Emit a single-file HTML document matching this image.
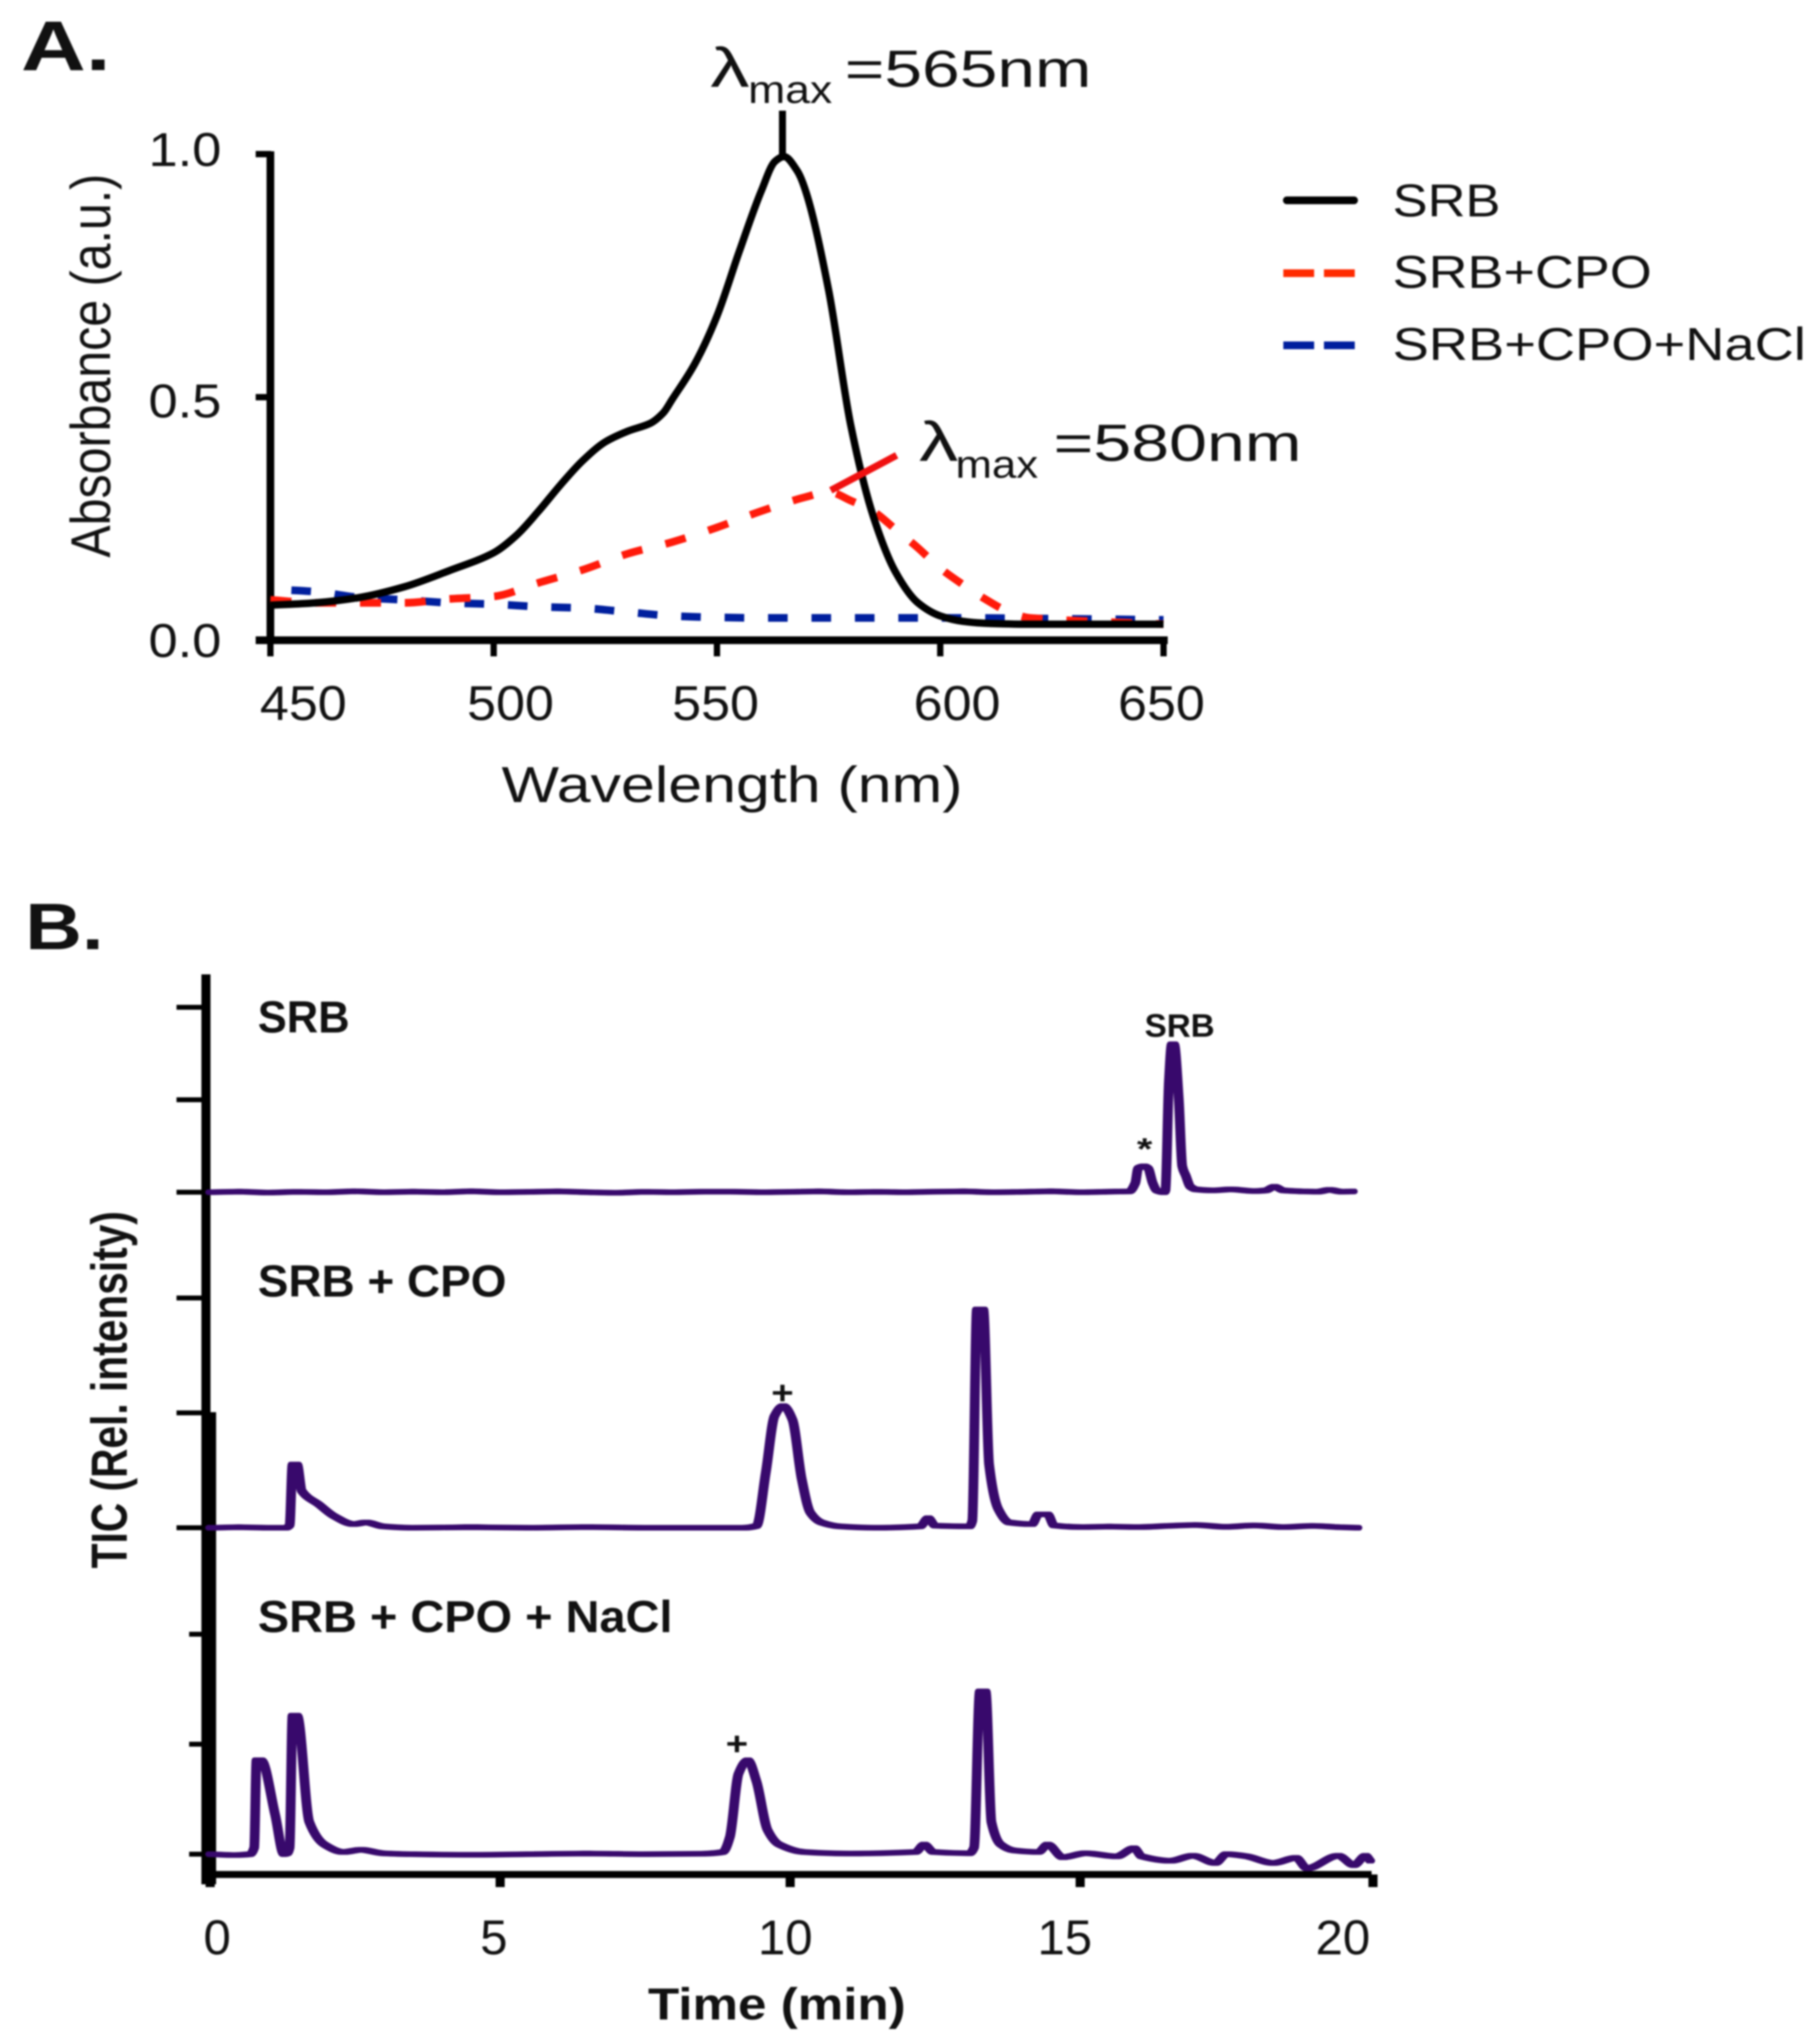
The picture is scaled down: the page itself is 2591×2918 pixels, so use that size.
<!DOCTYPE html>
<html lang="en">
<head>
<meta charset="utf-8">
<title>SRB absorbance spectra and TIC chromatograms</title>
<style>
html,body{margin:0;padding:0;background:#fff;width:2591px;height:2918px;overflow:hidden}
svg{display:block;filter:blur(1.2px)}
text{font-family:"Liberation Sans",sans-serif;fill:#111}
.b{font-weight:700}
</style>
</head>
<body>
<svg id="figure" xmlns="http://www.w3.org/2000/svg" width="2591" height="2918" viewBox="0 0 2591 2918">
  <rect x="0" y="0" width="2591" height="2918" fill="#fff"/>

  <text class="b" x="30" y="100" font-size="100" textLength="128" lengthAdjust="spacingAndGlyphs">A.</text>
  <text class="b" x="36" y="1355" font-size="94" textLength="112" lengthAdjust="spacingAndGlyphs">B.</text>

  <g id="panel-a"></g>

  <text transform="translate(157,522) rotate(-90)" text-anchor="middle" font-size="80" textLength="548" lengthAdjust="spacingAndGlyphs">Absorbance (a.u.)</text>
  <text x="716" y="1145" font-size="72" textLength="658" lengthAdjust="spacingAndGlyphs">Wavelength (nm)</text>

  <line x1="1117" y1="158" x2="1117" y2="226" stroke="#000" stroke-width="10"/>
  <line x1="1186" y1="700" x2="1280" y2="650" stroke="#f01010" stroke-width="10"/>

  <g>
    <text x="1014" y="124" font-size="80" textLength="56" lengthAdjust="spacingAndGlyphs">λ</text>
    <text x="1068" y="147" font-size="56" textLength="120" lengthAdjust="spacingAndGlyphs">max</text>
    <text x="1206" y="124" font-size="74" textLength="352" lengthAdjust="spacingAndGlyphs">=565nm</text>
  </g>
  <g>
    <text x="1312" y="658" font-size="80" textLength="56" lengthAdjust="spacingAndGlyphs">λ</text>
    <text x="1364" y="682" font-size="56" textLength="118" lengthAdjust="spacingAndGlyphs">max</text>
    <text x="1504" y="658" font-size="74" textLength="354" lengthAdjust="spacingAndGlyphs">=580nm</text>
  </g>

  <g>
    <g>
      <line x1="1837" y1="286" x2="1933" y2="286" stroke="#000" stroke-width="11" stroke-linecap="round"/>
      <text x="1988" y="309" font-size="66" textLength="154" lengthAdjust="spacingAndGlyphs">SRB</text>
    </g>
    <g>
      <line x1="1832" y1="390" x2="1934" y2="390" stroke="#ff2a00" stroke-width="11" stroke-dasharray="44 14"/>
      <text x="1988" y="411" font-size="66" textLength="370" lengthAdjust="spacingAndGlyphs">SRB+CPO</text>
    </g>
    <g>
      <line x1="1832" y1="493" x2="1934" y2="493" stroke="#001f9e" stroke-width="11" stroke-dasharray="44 14"/>
      <text x="1988" y="514" font-size="66" textLength="590" lengthAdjust="spacingAndGlyphs">SRB+CPO+NaCl</text>
    </g>
  </g>

  <g id="panel-b"></g>

  <text class="b" transform="translate(181,1984) rotate(-90)" text-anchor="middle" font-size="72" textLength="510" lengthAdjust="spacingAndGlyphs">TIC (Rel. intensity)</text>
  <text class="b" x="925" y="2883" font-size="64" textLength="368" lengthAdjust="spacingAndGlyphs">Time (min)</text>

  <text class="b" x="368" y="1474" font-size="64" textLength="131" lengthAdjust="spacingAndGlyphs">SRB</text>
  <text class="b" x="368" y="1851" font-size="64" textLength="355" lengthAdjust="spacingAndGlyphs">SRB + CPO</text>
  <text class="b" x="368" y="2330" font-size="64" textLength="592" lengthAdjust="spacingAndGlyphs">SRB + CPO + NaCl</text>

  <text class="b" x="1634" y="1480" font-size="46" textLength="100" lengthAdjust="spacingAndGlyphs">SRB</text>
  <text class="b" x="1623" y="1655" font-size="44" textLength="22" lengthAdjust="spacingAndGlyphs">*</text>
  <text class="b" x="1101" y="2004" font-size="46" textLength="32" lengthAdjust="spacingAndGlyphs">+</text>
  <text class="b" x="1036" y="2505" font-size="46" textLength="32" lengthAdjust="spacingAndGlyphs">+</text>
</svg>

<script>
// ---- Panel A data ----
const wavelengthsSRB = [450,460,470,480,490,500,505,510,515,520,525,530,535,538,540,545,550,555,560,563,565,568,570,575,580,585,590,595,600,605,610,620,650];
const absorbanceSRB  = [0.072,0.077,0.088,0.11,0.143,0.18,0.215,0.265,0.32,0.37,0.408,0.43,0.446,0.468,0.496,0.568,0.667,0.80,0.926,0.985,0.995,0.965,0.92,0.72,0.44,0.255,0.14,0.077,0.05,0.039,0.035,0.033,0.033];
const wavelengthsCPO = [450,460,470,480,490,500,510,520,530,540,550,560,570,575,580,585,590,595,600,605,610,615,620,650];
const absorbanceCPO  = [0.083,0.077,0.077,0.077,0.085,0.09,0.118,0.145,0.178,0.202,0.232,0.266,0.295,0.305,0.287,0.265,0.228,0.19,0.148,0.115,0.085,0.06,0.046,0.033];
const wavelengthsNaCl = [450,460,470,480,490,500,510,520,530,540,550,560,600,650];
const absorbanceNaCl  = [0.105,0.1,0.088,0.083,0.077,0.074,0.069,0.066,0.058,0.05,0.047,0.046,0.046,0.042];
const xTicksA = [450,500,550,600,650];
const yTicksA = [0,0.5,1];
const yTickLabelsA = ["0.0","0.5","1.0"];

// ---- Panel B data ----
const timesTrace1 = [0,0.5,1,1.5,2,2.5,3,3.5,4,4.5,5,5.5,6,6.5,7,7.5,8,8.5,9,9.5,10,10.5,11,11.5,12,12.5,13,13.5,14,14.5,15,15.5,15.85,15.95,16,16.1,16.17,16.25,16.32,16.45,16.47,16.53,16.58,16.62,16.7,16.76,16.82,16.9,17,17.3,17.6,18,18.2,18.35,18.5,18.8,19.1,19.3,19.5,19.7];
const valuesTrace1 = [0,0.3,-0.2,0.2,0,0.5,0,0.3,0,0.5,0,0.2,0.4,0,-0.3,0.2,0,0.3,0.3,0,0.2,0.4,0,0.2,0,0.3,0.4,0,0.2,0.5,0,0.3,0.5,5,13,14,13,5,1,0,1,60,80,80,50,14,9,3,1.5,1,1.5,0.6,1,3,1,0.5,0.3,1.3,0.3,0.4];
const timesTrace2 = [0,0.5,1,1.3,1.37,1.42,1.5,1.58,1.88,2.14,2.47,2.69,2.98,3.5,4.5,5.5,6.5,7.5,8.5,9.2,9.42,9.58,9.73,9.88,10.04,10.2,10.35,10.54,10.85,11.5,12.24,12.38,12.5,13.09,13.14,13.22,13.33,13.43,13.59,13.78,14.17,14.28,14.44,14.55,15,15.5,16,16.5,17,17.5,18,18.5,19,19.5,19.78];
const valuesTrace2 = [0,0.2,0,0,1,27.5,27.5,16,10,5,1.6,2.3,0.6,0,0.2,0,0.3,0,0,0,0.8,24,48.6,53,47,21,6.5,2.3,0.6,0,0.6,4.2,0.9,0.6,3,95,95,27.5,8,2.3,1.6,5.8,5.8,1,0.3,0.5,0.3,0.8,1.2,0.4,1,0.3,0.8,0.2,0];
const timesTrace3 = [0,0.4,0.69,0.76,0.8,0.88,1.12,1.27,1.33,1.37,1.42,1.5,1.71,1.97,2.3,2.6,2.98,3.5,4.5,5.5,6.5,7.5,8.5,8.84,8.96,9.11,9.27,9.42,9.61,9.81,10.23,11,12.16,12.31,12.47,13.09,13.17,13.27,13.37,13.47,13.63,13.86,14.28,14.44,14.7,15.09,15.63,15.93,16.06,16.56,16.94,17.33,17.52,17.87,18.33,18.72,18.91,19.45,19.72,19.92,20];
const valuesTrace3 = [0,-0.4,0,3,42.7,42.7,18,0,0.4,3,63,63,14.6,4.4,1,2,0.4,0,-0.3,0,0.3,0,0.2,1,7.8,36.6,42.7,33,11,4.4,1,0.3,1,4.4,1,0.4,3,74,74,14.6,4.4,1.7,1,4.4,-1.4,0.4,-1,2.7,-1,-3,-0.7,-4,0,-1,-4,-1.7,-6.4,-0.7,-5,-0.7,-3];
const xTicksB = [0,5,10,15,20];
const yTicksB = [0,50,100];

// ---- Helpers ----
const SVG_NS = "http://www.w3.org/2000/svg";
function mk(tag, parent){
  const el = document.createElementNS(SVG_NS, tag);
  parent.appendChild(el);
  return el;
}
function drawLine(parent, x1, y1, x2, y2, color, width){
  const el = mk("line", parent);
  el.setAttribute("x1", x1);
  el.setAttribute("y1", y1);
  el.setAttribute("x2", x2);
  el.setAttribute("y2", y2);
  el.setAttribute("stroke", color);
  el.setAttribute("stroke-width", width);
  return el;
}
function drawLabel(parent, x, baseline, str, size, len){
  const el = mk("text", parent);
  el.setAttribute("x", x);
  el.setAttribute("y", baseline);
  el.setAttribute("font-size", size);
  el.setAttribute("textLength", len);
  el.setAttribute("lengthAdjust", "spacingAndGlyphs");
  el.textContent = str;
  return el;
}
// Monotone cubic path: follows the data without overshooting at steep peaks.
function smoothPath(xs, ys, fx, fy){
  const px = xs.map(fx), py = ys.map(fy), n = px.length;
  const s = [];
  for (let i = 0; i < n - 1; i++) s.push((py[i + 1] - py[i]) / (px[i + 1] - px[i]));
  const m = [s[0]];
  for (let i = 1; i < n - 1; i++){
    m.push(s[i - 1] * s[i] > 0 ? 2 * s[i - 1] * s[i] / (s[i - 1] + s[i]) : 0);
  }
  m.push(s[n - 2]);
  let d = "M" + px[0].toFixed(1) + " " + py[0].toFixed(1);
  for (let i = 0; i < n - 1; i++){
    const h = (px[i + 1] - px[i]) / 3;
    d += " C" + (px[i] + h).toFixed(1) + " " + (py[i] + m[i] * h).toFixed(1) + " " +
         (px[i + 1] - h).toFixed(1) + " " + (py[i + 1] - m[i + 1] * h).toFixed(1) + " " +
         px[i + 1].toFixed(1) + " " + py[i + 1].toFixed(1);
  }
  return d;
}

// ---- Axis functions ----
const xA = nm => 386 + (nm - 450) * 6.375;
const yA = v => 914 - 694 * v;
const xB = t => 300 + t * 82.8;
const yB1 = v => 1702 - v * 2.64;
const yB2 = v => 2181 - v * 3.28;
const yB3 = v => 2647 - v * 3.14;

// ---- Panel A ----
(function(){
  const g = document.getElementById("panel-a");
  const yAxis = drawLine(g, 386, 216, 386, 919, "#000", 11);
  
  
  const xAxis = drawLine(g, 365, 914, 1667, 914, "#000", 11);
  
  

  const yBaselines = [938, 596, 237];
  yTicksA.forEach((v, i) => {
    const t = drawLine(g, 365, yA(v), 387, yA(v), "#000", 9);
    
    
    const l = drawLabel(g, 212, yBaselines[i], yTickLabelsA[i], 68, 104);
    
    
  });
  const labelShift = [47, 24, -2, 24, -3];
  xTicksA.forEach((v, i) => {
    const t = drawLine(g, xA(v), 914, xA(v), 937, "#000", 9);
    
    
    const l = drawLabel(g, xA(v) + labelShift[i] - 62, 1028, String(v), 70, 124);
    
    
  });

  const blue = mk("path", g);
  
  
  blue.setAttribute("d", smoothPath(wavelengthsNaCl, absorbanceNaCl, xA, yA));
  blue.setAttribute("fill", "none");
  blue.setAttribute("stroke", "#001f9e");
  blue.setAttribute("stroke-width", "11");
  blue.setAttribute("stroke-dasharray", "28 34");
  blue.setAttribute("stroke-dashoffset", "-30");

  const red = mk("path", g);
  
  
  red.setAttribute("d", smoothPath(wavelengthsCPO, absorbanceCPO, xA, yA));
  red.setAttribute("fill", "none");
  red.setAttribute("stroke", "#ff1a0a");
  red.setAttribute("stroke-width", "11");
  red.setAttribute("stroke-dasharray", "30 34");

  const black = mk("path", g);
  
  
  black.setAttribute("d", smoothPath(wavelengthsSRB, absorbanceSRB, xA, yA));
  black.setAttribute("fill", "none");
  black.setAttribute("stroke", "#000");
  black.setAttribute("stroke-width", "10.5");
  black.setAttribute("stroke-linejoin", "round");
})();

// ---- Panel B ----
(function(){
  const g = document.getElementById("panel-b");
  const yAxisUpper = drawLine(g, 294, 1391, 294, 2690, "#000", 13);
  
  
  const yAxisLower = drawLine(g, 301, 2016, 301, 2690, "#000", 15);
  
  
  const xAxis = drawLine(g, 292, 2676, 1958, 2676, "#000", 10);
  
  

  yTicksB.forEach(v => {
    [[yB1, 252], [yB2, 252], [yB3, 270]].forEach(pair => {
      const t = drawLine(g, pair[1], pair[0](v), 296, pair[0](v), "#000", 7);
      
      
    });
  });

  const labelShift = [10, -9, -7, -22, -39];
  xTicksB.forEach((v, i) => {
    const t = drawLine(g, xB(v) + (i === 4 ? 4 : 0), 2676, xB(v) + (i === 4 ? 4 : 0), 2694, "#000", 13);
    
    
    const str = String(v);
    const len = str.length * 39;
    const l = drawLabel(g, xB(v) + labelShift[i] - len / 2, 2790, str, 70, len);
    
    
  });

  // Each trace is stroked three times with a small sideways offset so steep peaks
  // look heavy while the flat baseline stays thin, as in the reference.
  const thick = (times, values, fy) => [-3, 0, 3].map(dx =>
    smoothPath(times, values, t => xB(t) + dx, fy)).join(" ");

  const trace1 = mk("path", g);
  
  
  trace1.setAttribute("d", thick(timesTrace1, valuesTrace1, yB1));
  const trace2 = mk("path", g);
  
  
  trace2.setAttribute("d", thick(timesTrace2, valuesTrace2, yB2));
  const trace3 = mk("path", g);
  
  
  trace3.setAttribute("d", thick(timesTrace3, valuesTrace3, yB3));
  [trace1, trace2, trace3].forEach(p => {
    p.setAttribute("fill", "none");
    p.setAttribute("stroke", "#38096c");
    p.setAttribute("stroke-width", "8");
    p.setAttribute("stroke-linejoin", "round");
    p.setAttribute("stroke-linecap", "round");
  });
})();
</script>
</body>
</html>
